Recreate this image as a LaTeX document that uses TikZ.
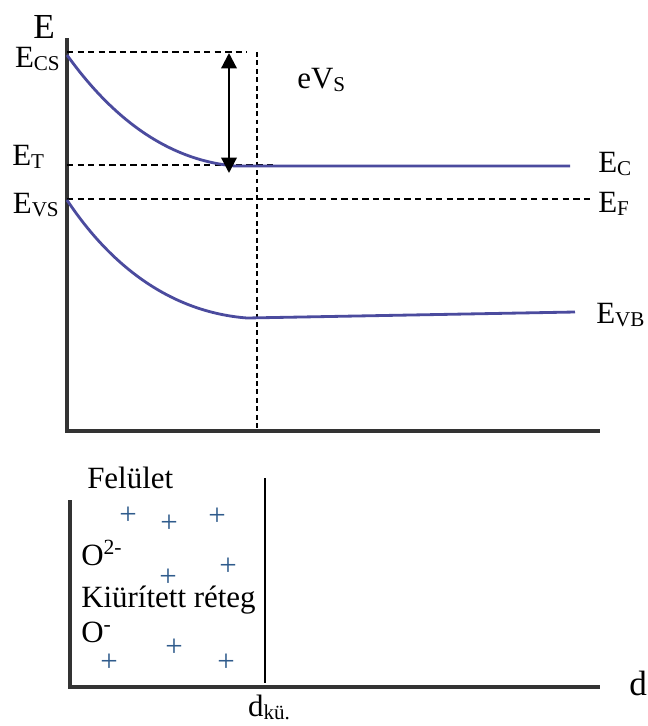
\documentclass[tikz,border=0pt]{standalone}
\usepackage{fontspec}
\setmainfont{Liberation Serif}
\usetikzlibrary{arrows.meta}
\definecolor{cBand}{HTML}{4B4B9E}
\definecolor{cPlus}{HTML}{2F5B8C}
\definecolor{cAxis}{HTML}{333333}
\newcommand{\lowsub}[1]{\raisebox{-0.1em}{\fontsize{15}{15}\selectfont #1}}

\begin{document}
\begin{tikzpicture}[x=0.025cm,y=-0.025cm,font=\fontsize{22}{26}\selectfont,
  axis/.style={cAxis,line width=2.2pt},
  band/.style={cBand,line width=2pt},
  lvl/.style={line width=0.9pt,dash pattern=on 4.5pt off 3pt},
  guide/.style={line width=0.8pt,dash pattern=on 3.5pt off 2.5pt},
  lab/.style={inner sep=0pt},
  big/.style={inner sep=0pt,font=\fontsize{25}{30}\selectfont},
  pl/.style={cPlus,inner sep=0pt}]
\useasboundingbox (0,0) rectangle (648,726);
% ---------- (a) band diagram ----------
\coordinate (yTop) at (67,38);
\coordinate (orig) at (67,431);
\coordinate (xEnd) at (600,431);
\draw[axis] (yTop) -- (orig) -- (xEnd);
\node[big,anchor=base] (E) at (44,38) {E};
% levels
\coordinate (cs) at (67,52);   \coordinate (csR) at (247,52);
\coordinate (et) at (67,165);  \coordinate (etR) at (273,165);
\coordinate (ef) at (67,199);  \coordinate (efR) at (590,199);
\coordinate (gTop) at (257,52); \coordinate (gBot) at (257,431);
\draw[lvl] (cs) -- (csR);
\draw[lvl] (et) -- (etR);
\draw[lvl] (ef) -- (efR);
\draw[guide] (gTop) -- (gBot);
% bands
\draw[band] (67,55) .. controls (110,115) and (165,160) .. (235,166) -- (570,166);
\draw[band] (67,200) .. controls (110,265) and (170,312) .. (247,318) -- (575,312);
% eVs arrow
\coordinate (vTop) at (229,53);
\coordinate (vBot) at (229,173);
\draw[{Triangle[width=11pt,length=11pt]}-{Triangle[width=11pt,length=11pt]},line width=1.6pt] (vTop) -- (vBot);
\node[lab,anchor=base west] (eVs) at (297,88) {eV\lowsub{S}};
% labels
\node[lab,anchor=base east] (Ecs) at (60,67) {E\lowsub{CS}};
\node[lab,anchor=base west] (Et) at (12,165) {E\lowsub{T}};
\node[lab,anchor=base east] (Evs) at (59,213) {E\lowsub{VS}};
\node[lab,anchor=base west] (Ec) at (598,172) {E\lowsub{C}};
\node[lab,anchor=base west] (Ef) at (598,212) {E\lowsub{F}};
\node[lab,anchor=base west] (Evb) at (596,323) {E\lowsub{VB}};
% ---------- (b) depletion layer ----------
\coordinate (yTop2) at (70,500);
\coordinate (orig2) at (70,687);
\coordinate (xEnd2) at (600,687);
\draw[axis] (yTop2) -- (orig2) -- (xEnd2);
\coordinate (wTop) at (265,478);
\coordinate (wBot) at (265,683);
\draw[line width=1pt] (wTop) -- (wBot);
\node[lab,anchor=base west] (fel) at (87,488) {Felület};
\node[lab,anchor=base west] (o2) at (81,565) {O\textsuperscript{2-}};
\node[lab,anchor=base west] (kiur) at (81,607) {Kiürített réteg};
\node[lab,anchor=base west] (o1) at (81,642) {O\textsuperscript{-}};
\foreach \x/\y [count=\i] in {128/516,169/524,217/517,228/567,168/578,174/648,109/663,226/663}
  \node[pl] (p\i) at (\x,\y) {+};
\node[big,anchor=base west] (d) at (629,695) {d};
\node[lab,anchor=base] (dku) at (269,716) {d\lowsub{kü.}};
\end{tikzpicture}
\end{document}
